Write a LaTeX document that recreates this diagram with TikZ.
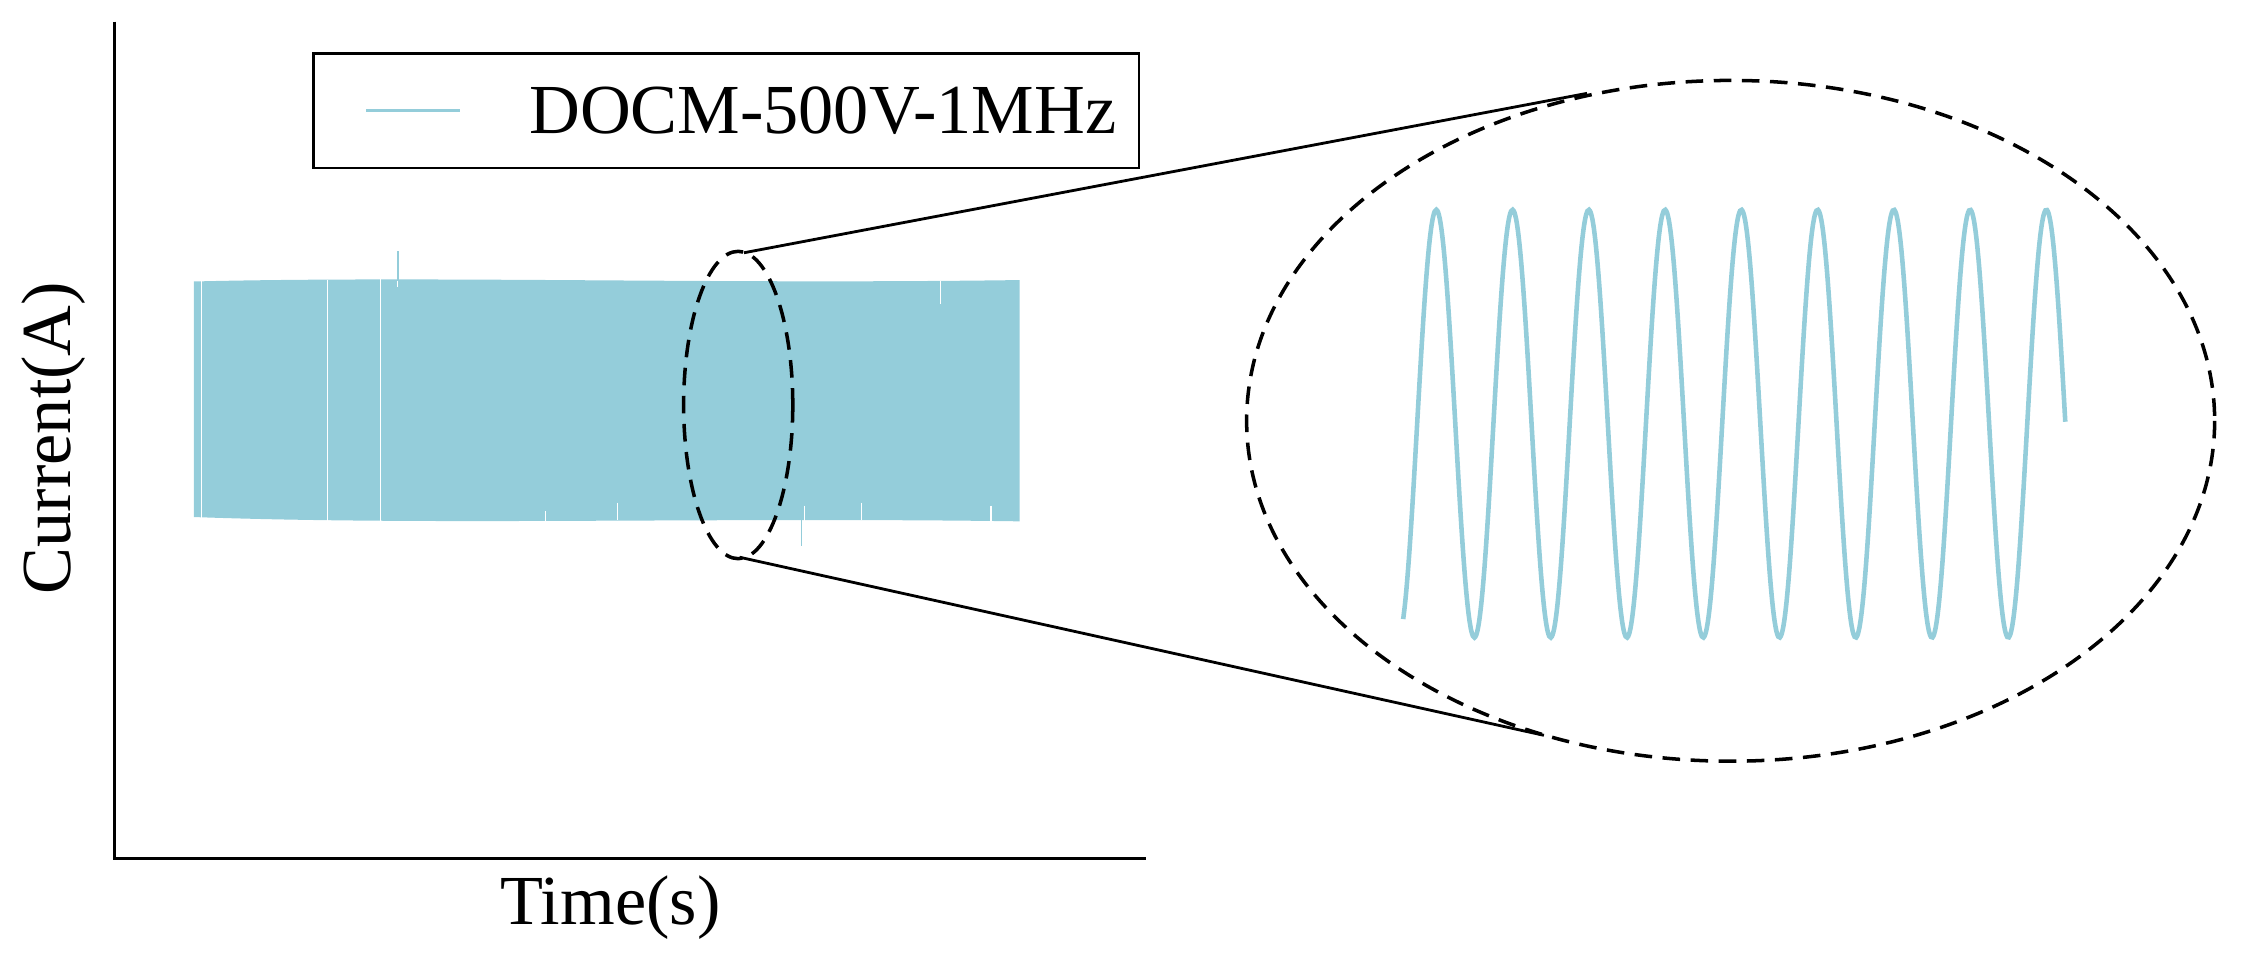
\documentclass[tikz,border=0pt]{standalone}
\usepackage{fontspec}
\setmainfont{Liberation Serif}
\begin{document}
\begin{tikzpicture}[x=0.01436cm,y=-0.01436cm,
  wave/.style={draw=cyanw,line width=1.3pt},
  dashln/.style={draw=black,line width=1pt,dash pattern=on 5pt off 3pt},
  lab/.style={font=\fontsize{20}{24}\selectfont}]
\definecolor{cyanw}{RGB}{148,205,218}
\useasboundingbox (0,0) rectangle (1568,675);
\draw[line width=0.8pt] (80,15) -- (80,598) -- (798,598);
\node[lab,rotate=90] (yl) at (37,305) {Current(A)};
\node[lab] (xl) at (425,632) {Time(s)};
\draw[line width=0.8pt] (218,37) rectangle (793,117);
\draw[wave,line width=1pt] (255,77) -- (320,77);
\node[lab,anchor=west,inner sep=0] (lt) at (368,77) {DOCM-500V-1MHz};
\fill[cyanw] (135,196) .. controls (300,192) and (500,198) .. (710,195) -- (710,363) .. controls (500,360) and (300,366) .. (135,360) -- cycle;
\foreach \x/\a/\b in {140/196/362,228/195/365,265/193/370,277/175/200,380/356/366,430/350/362,560/352/380,600/350/362,655/196/212,690/352/363}
  \draw[white,line width=0.3pt] (\x,\a) -- (\x,\b);
\draw[cyanw,line width=0.4pt] (277,175) -- (277,196);
\draw[cyanw,line width=0.4pt] (558,362) -- (558,380);
\draw[dashln] (514,282) ellipse [x radius=38,y radius=107];
\draw[dashln] (1205,293) ellipse [x radius=337,y radius=237];
\coordinate (a1) at (518,176); \coordinate (b1) at (1105,65);
\coordinate (a2) at (515,388); \coordinate (b2) at (1075,512);
\draw[line width=0.8pt] (a1) -- (b1);
\draw[line width=0.8pt] (a2) -- (b2);
\draw[wave,smooth,domain=-23:438,samples=400] plot ({\x+1000},{295-149*cos(6.7797*\x)});
\end{tikzpicture}
\end{document}
